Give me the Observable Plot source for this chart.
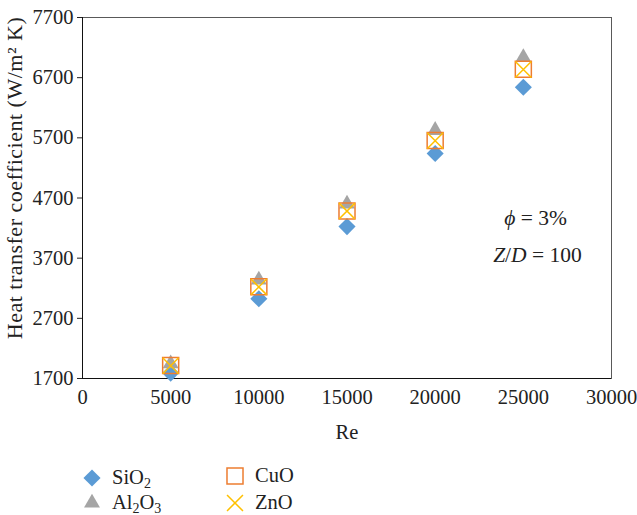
<!DOCTYPE html>
<html><head><meta charset="utf-8">
<script src="https://cdn.jsdelivr.net/npm/d3@7"></script>
<script src="https://cdn.jsdelivr.net/npm/@observablehq/plot@0.6"></script>
<style>
body{margin:0;background:#fff;}
#chart{position:relative;width:637px;height:515px;font-family:"Liberation Serif",serif;background:#fff;}
#legend{position:absolute;left:0;top:455px;width:637px;height:60px;}
.sym{position:absolute;width:24px;height:24px;}
.lt{position:absolute;font-size:20.5px;line-height:24px;color:#222;white-space:nowrap;}
.lt sub{font-size:14px;vertical-align:-4px;}
</style></head><body><div id="chart"><div id="legend"></div></div>
<script>
// data
const re = [5000, 10000, 15000, 20000, 25000];
const sio2 = [1790, 3025, 4225, 5440, 6540];
const al2o3 = [1945, 3340, 4600, 5825, 7035];
const cuo = [1915, 3225, 4485, 5655, 6838];
const zno = [1912, 3222, 4482, 5652, 6835];
const xTicks = [0, 5000, 10000, 15000, 20000, 25000, 30000];
const yTicks = [1700, 2700, 3700, 4700, 5700, 6700, 7700];
const seriesNames = ["SiO2", "Al2O3", "CuO", "ZnO"];
const notes = ["ϕ = 3%", "Z/D = 100"];

const rows = vals => re.map((r, i) => ({re: r, h: vals[i]}));
const blue = "#5B9BD5", gray = "#A5A5A5", orange = "#ED7D31", gold = "#FFC000";

const chart = Plot.plot({
  width: 637, height: 455,
  marginLeft: 82, marginRight: 26, marginTop: 17, marginBottom: 77,
  style: {fontFamily: "'Liberation Serif', serif", fontSize: "20.5px", color: "#222", background: "#fff"},
  x: {domain: [0, 30000], ticks: xTicks, tickSize: 0, tickPadding: 11, tickFormat: d => String(d),
      label: "Re", labelAnchor: "center", labelArrow: "none", labelOffset: 60},
  y: {domain: [1700, 7700], ticks: yTicks, tickSize: 5, tickPadding: 4, tickFormat: d => String(d),
      label: "Heat transfer coefficient (W/m² K)", labelAnchor: "center", labelArrow: "none", labelOffset: 76},
  marks: [
    Plot.frame({stroke: "#595959"}),
    Plot.ruleX([0], {stroke: "#111"}),
    Plot.ruleY([1700], {stroke: "#111"}),
    Plot.dot(rows(sio2), {x: "re", y: "h", symbol: "diamond2", r: 7.7, fill: blue, stroke: "none"}),
    Plot.dot(rows(al2o3), {x: "re", y: "h", symbol: "triangle2", r: 7.6, fill: gray, stroke: "none"}),
    Plot.dot(rows(cuo), {x: "re", y: "h", symbol: "square2", r: 10.2, fill: "none", stroke: orange, strokeWidth: 1.5}),
    Plot.dot(rows(zno), {x: "re", y: "h", symbol: "times", r: 7.3, fill: "none", stroke: gold, strokeWidth: 1.5}),
    Plot.text([notes[0]], {x: 25700, y: 4370, fontSize: 21.5, fill: "#222"}),
    Plot.text([notes[1]], {x: 25800, y: 3755, fontSize: 21.5, fill: "#222"})
  ]
});
document.getElementById("chart").prepend(chart);

d3.select(chart).selectAll("text").each(function() {
  const t = this.textContent;
  if (t === notes[0]) this.innerHTML = '<tspan font-style="italic">ϕ</tspan> = 3%';
  if (t === notes[1]) this.innerHTML = '<tspan font-style="italic">Z</tspan>/<tspan font-style="italic">D</tspan> = 100';
});
// y label: slightly larger and shifted up like the reference
d3.select(chart).selectAll('g[aria-label="y-axis label"] text').each(function() {
  this.setAttribute("font-size", "22px");
  this.setAttribute("letter-spacing", "0.5px");
  const tr = this.getAttribute("transform") || "";
  this.setAttribute("transform", "translate(0,-20) " + tr);
});

// legend
const legend = document.getElementById("legend");
const items = [
  {name: seriesNames[0], html: "SiO<sub>2</sub>", cx: 92, cy: 23, type: d3.symbolDiamond2, r: 7.7, fill: blue, stroke: "none"},
  {name: seriesNames[1], html: "Al<sub>2</sub>O<sub>3</sub>", cx: 92, cy: 48, type: d3.symbolTriangle2, r: 7.6, fill: gray, stroke: "none"},
  {name: seriesNames[2], html: "CuO", cx: 235, cy: 21, type: d3.symbolSquare2, r: 10.2, fill: "none", stroke: orange},
  {name: seriesNames[3], html: "ZnO", cx: 235, cy: 48, type: d3.symbolTimes, r: 7.3, fill: "none", stroke: gold}
];
for (const it of items) {
  const path = d3.symbol(it.type, Math.PI * it.r * it.r)();
  const s = document.createElement("div");
  s.className = "sym";
  s.style.left = (it.cx - 12) + "px";
  s.style.top = (it.cy - 12) + "px";
  s.innerHTML = `<svg width="24" height="24"><path transform="translate(12,12)" d="${path}" fill="${it.fill}" stroke="${it.stroke}" stroke-width="1.5"/></svg>`;
  legend.appendChild(s);
  const t = document.createElement("div");
  t.className = "lt";
  t.style.left = (it.cx + 20) + "px";
  t.style.top = (it.cy - 13) + "px";
  t.innerHTML = it.html;
  legend.appendChild(t);
}
</script></body></html>
